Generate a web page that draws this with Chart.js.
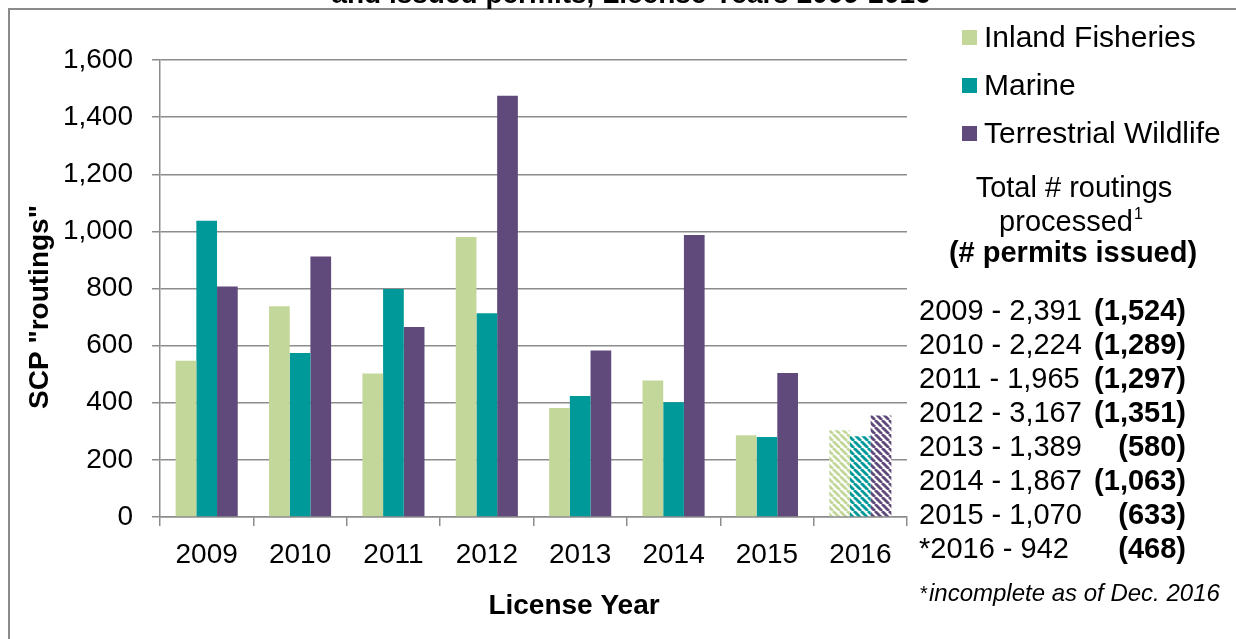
<!DOCTYPE html>
<html>
<head>
<meta charset="utf-8">
<script src="https://cdn.jsdelivr.net/npm/chart.js@4.4.1/dist/chart.umd.min.js"></script>
<style>
  html, body { margin: 0; padding: 0; background: #fff; }
  #wrap { width: 1236px; height: 639px; }
</style>
</head>
<body>
<div id="wrap"><canvas id="chart" width="1236" height="639"></canvas></div>
<script>
// data
const years = ['2009', '2010', '2011', '2012', '2013', '2014', '2015', '2016'];
const inlandFisheries = [547, 738, 502, 980, 382, 478, 286, 304];
const marine = [1037, 574, 798, 713, 424, 402, 280, 283];
const terrestrialWildlife = [807, 912, 665, 1475, 583, 987, 504, 355];
const incompleteYears = ['2016'];

const totalRoutings = [2391, 2224, 1965, 3167, 1389, 1867, 1070, 942];
const permitsIssued = [1524, 1289, 1297, 1351, 580, 1063, 633, 468];

const yTicks = { min: 0, max: 1600, step: 200 };

const FONT = '"Liberation Sans", Arial, Helvetica, sans-serif';
const GRID = '#8c8c8c';
const COLORS = ['#c4d79b', '#009999', '#604a7b'];

const canvas = document.getElementById('chart');
const ctx = canvas.getContext('2d');

// hatched fill for the incomplete year
function stripes(color) {
  const n = 7;
  const c = document.createElement('canvas');
  c.width = n; c.height = n;
  const g = c.getContext('2d');
  g.fillStyle = '#fff';
  g.fillRect(0, 0, n, n);
  g.strokeStyle = color;
  g.lineWidth = 2.8;
  for (const o of [-n, 0, n]) {
    g.beginPath();
    g.moveTo(o, 0);
    g.lineTo(o + n, n);
    g.stroke();
  }
  return ctx.createPattern(c, 'repeat');
}

function fills(color) {
  const pat = stripes(color);
  return years.map(y => incompleteYears.includes(y) ? pat : color);
}

const fmt = n => n.toLocaleString('en-US');

const framePlugin = {
  id: 'frame',
  beforeDraw(chart) {
    const c = chart.ctx;
    c.save();
    c.fillStyle = '#fff';
    c.fillRect(0, 0, chart.width, chart.height);
    c.strokeStyle = '#8a8a8a';
    c.lineWidth = 2;
    c.beginPath();
    c.moveTo(9, chart.height);
    c.lineTo(9, 9);
    c.lineTo(chart.width, 9);
    c.stroke();
    c.restore();
  }
};

const textPlugin = {
  id: 'sideText',
  afterDraw(chart) {
    const c = chart.ctx;
    c.save();
    c.fillStyle = '#000';

    // clipped title at the very top
    c.font = 'bold 28px ' + FONT;
    c.textAlign = 'center';
    c.textBaseline = 'alphabetic';
    c.fillText('and issued permits, License Years 2009-2016', 631, 3);

    // axis titles
    c.font = 'bold 28px ' + FONT;
    c.textBaseline = 'middle';
    c.fillText('License Year', 574, 606);
    c.save();
    c.translate(40, 307);
    c.rotate(-Math.PI / 2);
    c.fillText('SCP "routings"', 0, 0);
    c.restore();

    // legend
    const rowsY = [38, 86, 134];
    c.textAlign = 'left';
    c.font = '30px ' + FONT;
    chart.data.datasets.forEach((ds, i) => {
      c.fillStyle = COLORS[i];
      c.fillRect(962, rowsY[i] - 8, 15, 15);
      c.fillStyle = '#000';
      c.fillText(ds.label, 984, rowsY[i] + 1);
    });

    // totals block
    c.textAlign = 'center';
    c.textBaseline = 'alphabetic';
    c.font = '29px ' + FONT;
    c.fillText('Total # routings', 1074, 197);
    const pw = c.measureText('processed').width;
    c.fillText('processed', 1066, 231);
    c.font = '16px ' + FONT;
    c.textAlign = 'left';
    c.fillText('1', 1066 + pw / 2 + 1, 219);
    c.textAlign = 'center';
    c.font = 'bold 29px ' + FONT;
    c.fillText('(# permits issued)', 1073, 262);

    const lineY = [320, 354, 388, 422, 456, 490, 524, 558];
    years.forEach((y, i) => {
      const star = incompleteYears.includes(y) ? '*' : '';
      c.textAlign = 'left';
      c.font = '29px ' + FONT;
      c.fillText(star + y + ' - ' + fmt(totalRoutings[i]), 919, lineY[i]);
      c.textAlign = 'right';
      c.font = 'bold 29px ' + FONT;
      c.fillText('(' + fmt(permitsIssued[i]) + ')', 1186, lineY[i]);
    });

    c.textAlign = 'left';
    c.font = '20px ' + FONT;
    c.fillText('*', 920, 600);
    c.font = 'italic 24px ' + FONT;
    c.fillText('incomplete as of Dec. 2016', 929, 601);
    c.restore();
  }
};

new Chart(canvas, {
  type: 'bar',
  data: {
    labels: years,
    datasets: [
      { label: 'Inland Fisheries', data: inlandFisheries, backgroundColor: fills(COLORS[0]) },
      { label: 'Marine', data: marine, backgroundColor: fills(COLORS[1]) },
      { label: 'Terrestrial Wildlife', data: terrestrialWildlife, backgroundColor: fills(COLORS[2]) }
    ]
  },
  options: {
    responsive: false,
    animation: false,
    layout: { padding: { top: 60, right: 329, bottom: 0, left: 0 } },
    datasets: { bar: { categoryPercentage: 0.665, barPercentage: 1, borderWidth: 0 } },
    plugins: {
      legend: { display: false },
      tooltip: { enabled: false }
    },
    scales: {
      x: {
        offset: true,
        ticks: { padding: 12, color: '#000', font: { family: FONT, size: 28 } },
        grid: { offset: true, drawOnChartArea: false, color: GRID, lineWidth: 1.5, tickLength: 9 },
        border: { color: GRID, width: 1.5 },
        afterFit: s => { s.height = 122; }
      },
      y: {
        min: yTicks.min,
        max: yTicks.max,
        ticks: { stepSize: yTicks.step, padding: 19, color: '#000', font: { family: FONT, size: 28 } },
        grid: { color: GRID, lineWidth: 1.5, tickLength: 8 },
        border: { color: GRID, width: 1.5 },
        afterFit: s => { s.width = 160; }
      }
    }
  },
  plugins: [framePlugin, textPlugin]
});
</script>
</body>
</html>
